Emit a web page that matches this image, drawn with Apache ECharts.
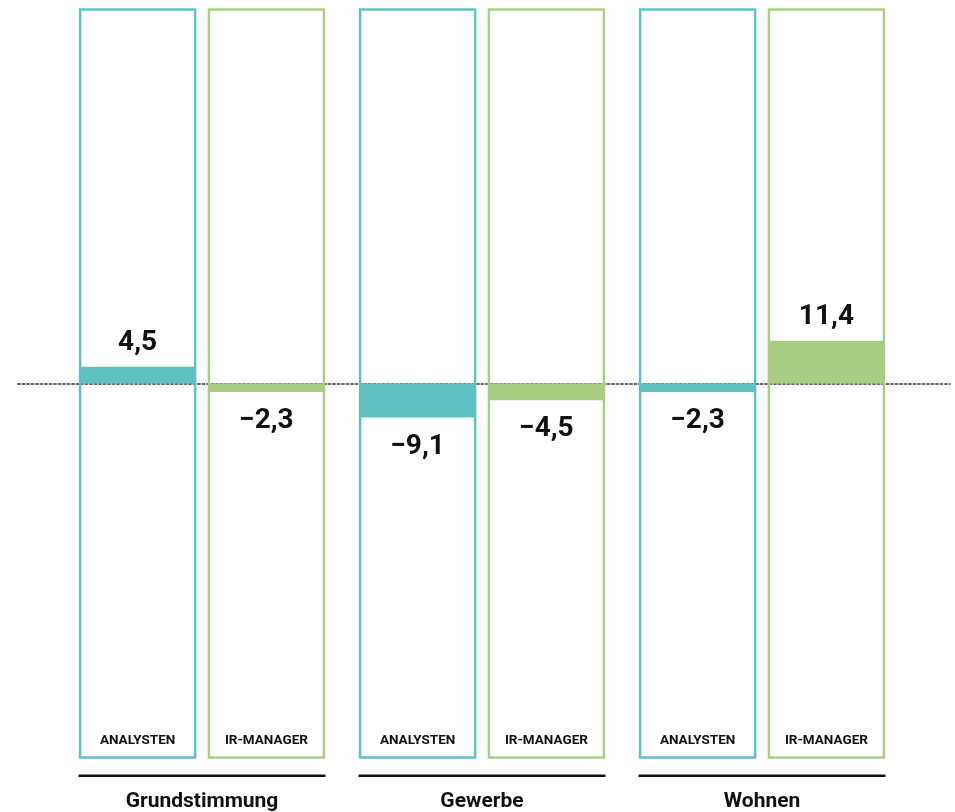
<!DOCTYPE html>
<html>
<head>
<meta charset="utf-8">
<script src="https://cdn.jsdelivr.net/npm/echarts@6/dist/echarts.min.js"></script>
<style>
html,body{margin:0;padding:0;background:#fff;}
#chart{width:955px;height:812px;}
</style>
</head>
<body>
<div id="chart"></div>
<script>
// ---- data ----
const categories = ['Grundstimmung', 'Gewerbe', 'Wohnen'];
const seriesNames = ['ANALYSTEN', 'IR-MANAGER'];
const analysten = [4.5, -9.1, -2.3];
const irManager = [-2.3, -4.5, 11.4];
const axisMin = -100;
const axisMax = 100;

// ---- styles ----
const TEAL = '#5fc1c0';
const GREEN = '#a6cf82';
const FONT = 'Roboto';
const GRID_TOP = 9.5, GRID_H = 748;

function fmt(v) {
  const s = Math.abs(v).toFixed(1).replace('.', ',');
  return (v < 0 ? '\u2212' : '') + s;
}
function valueData(arr) {
  return arr.map(v => ({
    value: v,
    label: { position: v < 0 ? 'bottom' : 'top', distance: v < 0 ? 15 : 10 }
  }));
}
const labelText = {
  show: true, formatter: p => fmt(p.value),
  fontFamily: FONT, fontWeight: 'bold', fontSize: 28, color: '#111'
};
function nameSeries(name, color) {
  return {
    type: 'bar', name: name, xAxisIndex: 1, yAxisIndex: 1,
    barWidth: 115, barGap: '12%', z: 1,
    data: categories.map(() => axisMin),
    itemStyle: { color: 'rgba(0,0,0,0)' },
    showBackground: true,
    backgroundStyle: { color: 'rgba(0,0,0,0)', borderColor: color, borderWidth: 2.5 },
    label: {
      show: true, position: 'insideBottom', distance: 10,
      formatter: name, fontFamily: FONT, fontWeight: 'bold', fontSize: 13.5, color: '#111'
    },
    silent: true
  };
}

const chart = echarts.init(document.getElementById('chart'), null, { renderer: 'canvas' });
chart.setOption({
  animation: false,
  backgroundColor: '#ffffff',
  grid: [
    { left: 62, width: 840, top: GRID_TOP, height: GRID_H, outerBoundsMode: 'none', containLabel: false },
    { left: 18, right: 5, top: GRID_TOP, height: GRID_H, outerBoundsMode: 'none', containLabel: false }
  ],
  xAxis: [
    {
      type: 'category', gridIndex: 0, data: categories, position: 'bottom',
      axisLine: { show: false }, axisTick: { show: false }, splitLine: { show: false },
      axisLabel: {
        show: true, margin: 17, interval: 0,
        formatter: v => '{line| }\n{name|' + v + '}',
        rich: {
          line: { width: 247, height: 2.5, lineHeight: 2.5, fontSize: 1, backgroundColor: '#111' },
          name: { fontFamily: FONT, fontWeight: 'bold', fontSize: 21, color: '#111', lineHeight: 50 }
        }
      }
    },
    {
      type: 'category', gridIndex: 0, data: categories, position: 'top',
      axisLine: { show: false }, axisTick: { show: false }, axisLabel: { show: false }, splitLine: { show: false }
    },
    {
      type: 'value', gridIndex: 1, min: 0, max: 1,
      axisLine: { show: true, onZero: true, lineStyle: { color: '#666666', width: 2, type: [2, 2.5] } },
      axisTick: { show: false }, axisLabel: { show: false }, splitLine: { show: false }
    }
  ],
  yAxis: [
    { type: 'value', gridIndex: 0, min: axisMin, max: axisMax, show: false, splitLine: { show: false } },
    { type: 'value', gridIndex: 0, min: axisMin, max: axisMax, show: false, splitLine: { show: false } },
    { type: 'value', gridIndex: 1, min: axisMin, max: axisMax, show: false, splitLine: { show: false } }
  ],
  series: [
    {
      type: 'bar', name: seriesNames[0], xAxisIndex: 0, yAxisIndex: 0,
      barWidth: 115, barGap: '12%', z: 3,
      itemStyle: { color: TEAL }, label: labelText, data: valueData(analysten)
    },
    {
      type: 'bar', name: seriesNames[1], xAxisIndex: 0, yAxisIndex: 0,
      barWidth: 115, barGap: '12%', z: 3,
      itemStyle: { color: GREEN }, label: labelText, data: valueData(irManager)
    },
    nameSeries(seriesNames[0], TEAL),
    nameSeries(seriesNames[1], GREEN)
  ]
});
</script>
</body>
</html>
